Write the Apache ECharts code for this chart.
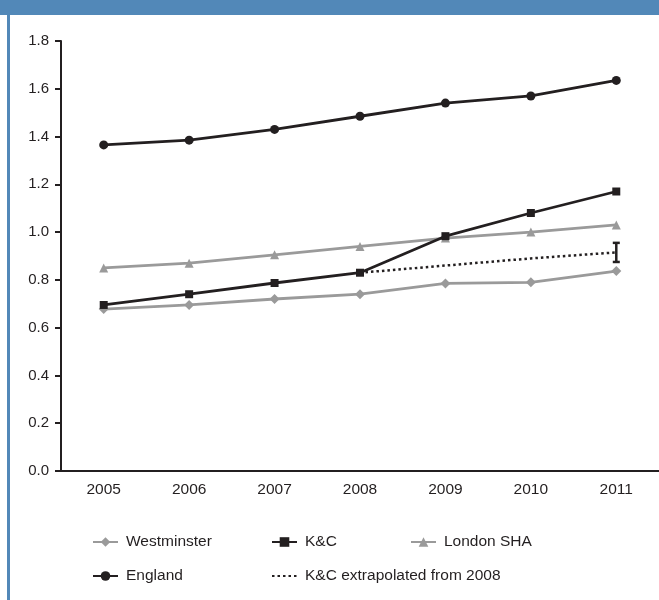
<!DOCTYPE html>
<html>
<head>
<meta charset="utf-8">
<style>
  html, body { margin: 0; padding: 0; background: #fff; }
  #chart { width: 659px; height: 600px; }
</style>
<script src="https://cdn.jsdelivr.net/npm/echarts@6/dist/echarts.min.js"></script>
</head>
<body>
<div id="chart"></div>
<script>
var years = ['2005', '2006', '2007', '2008', '2009', '2010', '2011'];
var westminster = [0.678, 0.695, 0.72, 0.74, 0.785, 0.79, 0.837];
var kc = [0.695, 0.74, 0.787, 0.83, 0.983, 1.08, 1.17];
var londonSha = [0.85, 0.87, 0.905, 0.94, 0.975, 1.0, 1.03];
var england = [1.365, 1.385, 1.43, 1.485, 1.54, 1.57, 1.635];
var kcExtrap = [null, null, null, 0.83, 0.86, 0.89, 0.915];
var kcErr = [[6, 0.875, 0.955]]; // 2011 index, low, high

var black = '#231f20';
var grey = '#9a9a9a';
var font = 'Liberation Sans, Arial, sans-serif';

function legendItem(name, left, top) {
    return {
        data: [name],
        left: left,
        top: top,
        padding: 0,
        itemWidth: 25,
        itemHeight: 12,
        itemGap: 0,
        selectedMode: false,
        textStyle: { color: black, fontSize: 15.5, fontFamily: font, padding: [0, 0, 0, 3] }
    };
}

var chart = echarts.init(document.getElementById('chart'));
var option = {
    backgroundColor: '#fff',
    animation: false,
    graphic: [
        { type: 'rect', shape: { x: 0, y: 0, width: 659, height: 15 }, style: { fill: '#5288b8' } },
        { type: 'rect', shape: { x: 7, y: 15, width: 3, height: 585 }, style: { fill: '#5288b8' } }
    ],
    legend: [
        legendItem('Westminster', 92, 534),
        legendItem('K&C', 271, 534),
        legendItem('London SHA', 410, 534),
        legendItem('England', 92, 568),
        legendItem('K&C extrapolated from 2008', 271, 568)
    ],
    grid: { left: 61, top: 41, width: 616, height: 430 },
    xAxis: {
        type: 'category',
        data: years,
        boundaryGap: true,
        axisLine: { lineStyle: { color: black, width: 2 } },
        axisTick: { show: false },
        axisLabel: { color: black, fontSize: 15.5, fontFamily: font, margin: 11 }
    },
    yAxis: {
        type: 'value',
        min: 0,
        max: 1.8,
        interval: 0.2,
        axisLine: { show: true, lineStyle: { color: black, width: 2 } },
        axisTick: { show: true, length: 6, lineStyle: { color: black, width: 2 } },
        splitLine: { show: false },
        axisLabel: {
            color: black, fontSize: 15, fontFamily: font, margin: 12,
            formatter: function(v) { return v.toFixed(1); }
        }
    },
    series: [
        {
            name: 'Westminster', type: 'line', data: westminster,
            symbol: 'diamond', symbolSize: [10, 10],
            lineStyle: { color: grey, width: 2.8 }, itemStyle: { color: grey }
        },
        {
            name: 'London SHA', type: 'line', data: londonSha,
            symbol: 'triangle', symbolSize: 9,
            lineStyle: { color: grey, width: 2.8 }, itemStyle: { color: grey }
        },
        {
            name: 'K&C', type: 'line', data: kc,
            symbol: 'rect', symbolSize: 8,
            lineStyle: { color: black, width: 2.8 }, itemStyle: { color: black }
        },
        {
            name: 'England', type: 'line', data: england,
            symbol: 'circle', symbolSize: 9,
            lineStyle: { color: black, width: 2.8 }, itemStyle: { color: black }
        },
        {
            name: 'K&C extrapolated from 2008', type: 'line', data: kcExtrap,
            symbol: 'none', connectNulls: false,
            lineStyle: { color: black, width: 2.5, type: [2.5, 3] },
            itemStyle: { color: 'rgba(0,0,0,0)' }
        },
        {
            type: 'custom', data: kcErr, z: 5,
            renderItem: function(params, api) {
                var lo = api.coord([api.value(0), api.value(1)]);
                var hi = api.coord([api.value(0), api.value(2)]);
                var x = lo[0], c = 3.5;
                var st = { stroke: black, lineWidth: 2.5 };
                return {
                    type: 'group',
                    children: [
                        { type: 'line', shape: { x1: x, y1: lo[1], x2: x, y2: hi[1] }, style: st },
                        { type: 'line', shape: { x1: x - c, y1: lo[1], x2: x + c, y2: lo[1] }, style: st },
                        { type: 'line', shape: { x1: x - c, y1: hi[1], x2: x + c, y2: hi[1] }, style: st }
                    ]
                };
            }
        }
    ]
};
chart.setOption(option);
</script>
</body>
</html>
